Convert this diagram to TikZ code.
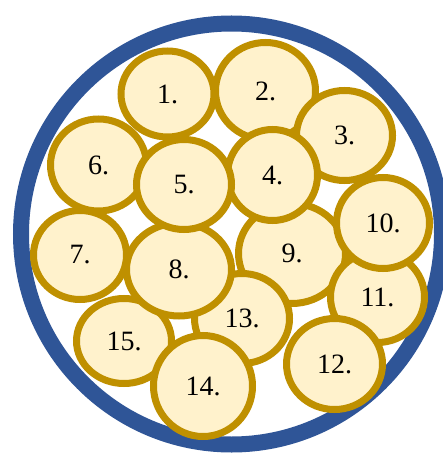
\documentclass[tikz,border=0pt]{standalone}
\usepackage{fontspec}
\setmainfont{Liberation Serif}
\usepackage{xcolor}
\usetikzlibrary{shapes.geometric}
\definecolor{RingBlue}{RGB}{47,85,151}
\definecolor{BallFill}{RGB}{255,242,204}
\definecolor{BallEdge}{RGB}{191,144,0}

\begin{document}
\begin{tikzpicture}[
  x=1pt, y=-1pt,
  font=\fontsize{28}{30}\selectfont,
  ring/.style={draw=RingBlue, line width=16pt},
  ball/.style n args={2}{ellipse, draw=BallEdge, fill=BallFill, line width=7pt,
               minimum width=#1pt-7pt, minimum height=#2pt-7pt, inner sep=0pt},
]
  \useasboundingbox (0,0) rectangle (442,454);
  \node[circle, ring, minimum size=421pt, inner sep=0pt] (dish) at (231.5,234) {};

  % back row first, front ones on top
  \node[ball={100}{93}]  (b1)  at (167.5,94)  {1.};
  \node[ball={107}{104}] (b2)  at (265.5,91)  {2.};
  \node[ball={103}{97}]  (b3)  at (344.5,135.5) {3.};
  \node[ball={103}{99}]  (b6)  at (98.5,165) {6.};
  \node[ball={100}{96}]  (b7)  at (80,255)    {7.};
  \node[ball={114}{107}] (b9)  at (292,253.5) {9.};
  \node[ball={101}{98}]  (b11) at (377.5,297) {11.};
  \node[ball={100}{98}]  (b10) at (383,223)   {10.};
  \node[ball={97}{98}]   (b4)  at (272.5,175) {4.};
  \node[ball={102}{97}]  (b13) at (242,318.5) {13.};
  \node[ball={102}{92}]  (b15) at (124,341)   {15.};
  \node[ball={112}{100}] (b8)  at (179,269.5) {8.};
  \node[ball={102}{97}]  (b5)  at (184,184.5) {5.};
  \node[ball={103}{98}]  (b12) at (334.5,364) {12.};
  \node[ball={106}{108}] (b14) at (203,386)   {14.};
\end{tikzpicture}
\end{document}
